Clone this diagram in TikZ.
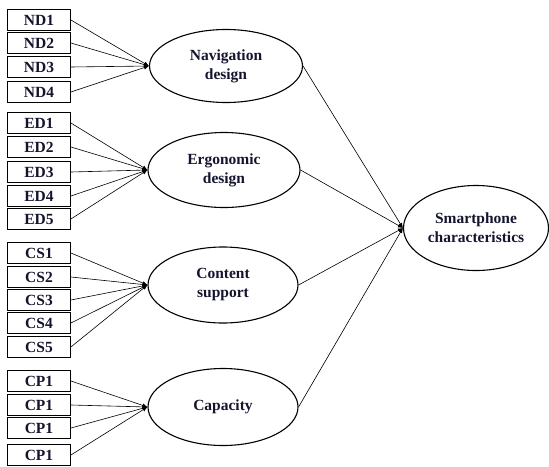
\documentclass[tikz,border=0pt]{standalone}
\usepackage{fontspec}
\setmainfont{Liberation Serif}
\usetikzlibrary{shapes.geometric,arrows.meta}
\definecolor{txt}{rgb}{0.08,0.08,0.18}
\begin{document}
\begin{tikzpicture}[x=1pt,y=-1pt,
  ind/.style={draw,line width=0.8pt,minimum width=63pt,minimum height=21pt,inner sep=0pt,font=\bfseries\fontsize{15.5}{16}\selectfont,text=txt},
  lat/.style={draw,ellipse,line width=1.1pt,inner sep=0pt,align=center,font=\bfseries\fontsize{15.5}{19}\selectfont,text=txt},
  conn/.style={line width=0.6pt,-{Latex[length=5pt,width=4pt]}}]
\useasboundingbox (0,0) rectangle (549,466);
% latent variables
\node[lat,minimum width=153pt,minimum height=73pt] (nav) at (226,66) {Navigation\\design};
\node[lat,minimum width=152pt,minimum height=75pt] (erg) at (224,170) {Ergonomic\\design};
\node[lat,minimum width=150pt,minimum height=76pt] (cs) at (223,285) {Content\\support};
\node[lat,minimum width=150pt,minimum height=77pt] (cap) at (223,407) {Capacity};
\node[lat,minimum width=145pt,minimum height=85pt] (sc) at (476,228) {Smartphone\\characteristics};
% indicators
\node[ind] (nd1) at (39,20) {ND1};
\node[ind] (nd2) at (39,43) {ND2};
\node[ind] (nd3) at (39,67) {ND3};
\node[ind] (nd4) at (39,92) {ND4};
\node[ind] (ed1) at (39,123) {ED1};
\node[ind] (ed2) at (39,147) {ED2};
\node[ind] (ed3) at (39,172) {ED3};
\node[ind] (ed4) at (39,196) {ED4};
\node[ind] (ed5) at (39,219) {ED5};
\node[ind] (cs1) at (39,253) {CS1};
\node[ind] (cs2) at (39,277) {CS2};
\node[ind] (cs3) at (39,300) {CS3};
\node[ind] (cs4) at (39,323) {CS4};
\node[ind] (cs5) at (39,347) {CS5};
\node[ind] (cp1) at (39,381) {CP1};
\node[ind] (cp2) at (39,405) {CP1};
\node[ind] (cp3) at (39,428) {CP1};
\node[ind] (cp4) at (39,455) {CP1};
% connectors
\foreach \i in {nd1,nd2,nd3,nd4} \draw[conn] (\i.east) -- (nav.west);
\foreach \i in {ed1,ed2,ed3,ed4,ed5} \draw[conn] (\i.east) -- (erg.west);
\foreach \i in {cs1,cs2,cs3,cs4,cs5} \draw[conn] (\i.east) -- (cs.west);
\foreach \i in {cp1,cp2,cp3,cp4} \draw[conn] (\i.east) -- (cap.west);
\foreach \i in {nav,erg,cs,cap} \draw[conn] (\i.east) -- (sc.west);
\end{tikzpicture}
\end{document}
